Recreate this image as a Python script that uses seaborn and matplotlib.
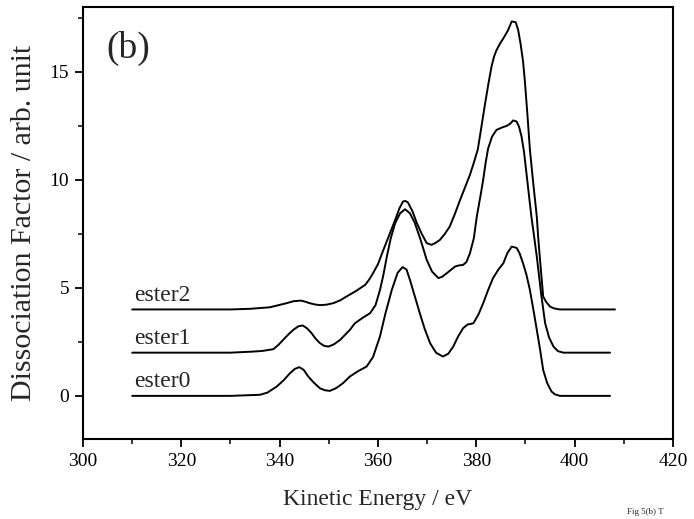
import matplotlib
matplotlib.use("Agg")
import matplotlib.pyplot as plt
import seaborn as sns
import pandas as pd
from matplotlib.ticker import MultipleLocator

# ---- data ----
series_names = ["ester0", "ester1", "ester2"]

e0_x = [310, 330, 336, 337.5, 339.4, 340.8, 342.1, 343.1, 344.0, 344.9, 345.8, 347.0,
        348.2, 349.2, 350.2, 351.5, 352.9, 354.3, 356.0, 357.7, 359.0, 360.4, 361.5,
        362.8, 364.0, 365.0, 365.8, 366.5, 367.5, 368.5, 369.5, 370.6, 371.8, 373.2,
        374.3, 375.3, 376.3, 377.3, 378.2, 379.4, 380.4, 381.4, 382.4, 383.4, 384.5,
        385.5, 386.3, 387.2, 388.2, 388.8, 389.5, 390.2, 390.9, 391.6, 392.3, 393.0,
        393.6, 394.4, 395.3, 396.0, 397.0, 407.2]
e0_y = [0, 0, 0.05, 0.15, 0.43, 0.72, 1.05, 1.25, 1.33, 1.2, 0.9, 0.6,
        0.35, 0.26, 0.23, 0.36, 0.59, 0.9, 1.15, 1.36, 1.8, 2.75, 3.8,
        4.9, 5.7, 5.96, 5.85, 5.37, 4.6, 3.83, 3.1, 2.44, 2.0, 1.82,
        1.95, 2.28, 2.75, 3.13, 3.3, 3.36, 3.75, 4.29, 4.9, 5.45, 5.85,
        6.14, 6.6, 6.91, 6.85, 6.6, 6.14, 5.6, 4.9, 4.0, 3.06, 2.1,
        1.2, 0.6, 0.2, 0.07, 0, 0]

e1_x = [310, 330, 334.6, 336.5, 338.7, 339.7, 340.7, 341.8, 342.8, 343.8, 344.7, 345.6,
        346.5, 347.3, 348.2, 349.0, 349.9, 351.0, 352.3, 354.3, 355.3, 356.8, 358.4,
        359.5, 360.4, 361.1, 361.8, 362.6, 363.5, 364.5, 365.5, 366.5, 367.5, 368.7,
        369.9, 371.0, 372.3, 373.1, 374.0, 375.7, 376.5, 377.3, 378.0, 378.7, 379.5,
        380.1, 380.8, 381.4, 381.9, 382.4, 383.2, 384.1, 385.2, 386.2, 386.9, 387.5,
        388.2, 388.7, 389.2, 389.7, 390.2, 390.7, 391.2, 391.8, 392.3, 393.2, 394.0,
        394.8, 395.7, 396.6, 397.7, 407.2]
e1_y = [2, 2, 2.05, 2.08, 2.16, 2.35, 2.59, 2.85, 3.06, 3.22, 3.26, 3.12,
        2.9, 2.65, 2.44, 2.32, 2.28, 2.38, 2.59, 3.06, 3.36, 3.6, 3.83,
        4.2, 4.9, 5.6, 6.45, 7.3, 8.0, 8.45, 8.64, 8.45, 8.0, 7.2,
        6.3, 5.75, 5.45, 5.52, 5.68, 5.99, 6.04, 6.06, 6.2, 6.6, 7.3,
        8.3, 9.2, 10.0, 10.8, 11.45, 12.0, 12.31, 12.42, 12.5, 12.6, 12.75,
        12.7, 12.45, 12.0, 11.3, 10.3, 9.3, 8.3, 7.3, 6.45, 4.7, 3.36,
        2.7, 2.28, 2.07, 2.0, 2.0]

e2_x = [310, 330, 334, 338, 341.4, 342.8, 344.3, 345.2, 346.1, 347.2, 348.2, 349.5,
        350.9, 352.3, 353.6, 355.5, 357.4, 358.2, 359.0, 360.0, 361.1, 362.3, 363.5,
        364.4, 365.1, 365.6, 366.1, 367.0, 367.9, 368.9, 369.9, 370.9, 371.7, 372.6,
        373.6, 374.6, 375.6, 376.7, 377.7, 378.7, 379.5, 380.3, 381.0, 381.8, 382.5,
        383.1, 383.6, 384.1, 384.8, 385.5, 386.4, 387.2, 388.0, 388.5, 389.0, 389.5,
        389.9, 390.4, 390.9, 391.6, 392.3, 392.6, 392.9, 393.6, 394.2, 395.0, 395.8,
        397.0, 408.2]
e2_y = [4, 4, 4.03, 4.1, 4.29, 4.38, 4.41, 4.36, 4.29, 4.23, 4.2, 4.22,
        4.29, 4.42, 4.6, 4.85, 5.14, 5.38, 5.68, 6.1, 6.76, 7.45, 8.15,
        8.7, 9.0, 9.02, 8.95, 8.55, 8.0, 7.5, 7.07, 6.99, 7.08, 7.22,
        7.5, 7.84, 8.4, 9.07, 9.65, 10.23, 10.8, 11.4, 12.4, 13.55, 14.5,
        15.25, 15.7, 16.0, 16.3, 16.55, 16.9, 17.33, 17.3, 16.95, 16.3, 15.5,
        14.5, 13.0, 11.4, 9.8, 8.3, 7.3, 6.45, 4.6, 4.35, 4.13, 4.05,
        4.0, 4.0]

baselines = [0, 2, 4]
x_ticks = [300, 320, 340, 360, 380, 400, 420]
y_ticks = [0, 5, 10, 15]

frames = []
for name, xs, ys in zip(series_names, [e0_x, e1_x, e2_x], [e0_y, e1_y, e2_y]):
    frames.append(pd.DataFrame({"energy": xs, "value": ys, "series": name}))
df = pd.concat(frames, ignore_index=True)

# ---- plotting ----
sns.set_style("ticks")
plt.rcParams["font.family"] = ["Liberation Serif", "DejaVu Serif"]

fig = plt.figure(figsize=(6.94, 5.19), dpi=100)
ax = fig.add_axes([0.1196, 0.154, 0.8501, 0.8325])

sns.lineplot(data=df, x="energy", y="value", hue="series",
             palette={n: "black" for n in series_names},
             estimator=None, sort=False, legend=False, linewidth=1.4, ax=ax)

for name, b in zip(series_names, baselines):
    ax.text(310.3, b + 0.18, name, fontsize=17, ha="left", va="bottom")

ax.text(0.04, 0.905, "(b)", transform=ax.transAxes, fontsize=27,
        ha="left", va="center")

ax.set_xlim(300, 420)
ax.set_ylim(-2, 18)
ax.set_xticks(x_ticks)
ax.set_yticks(y_ticks)
ax.xaxis.set_minor_locator(MultipleLocator(10))
ax.yaxis.set_minor_locator(MultipleLocator(2.5))
ax.tick_params(axis="both", which="major", direction="out", length=6,
               width=1.3, labelsize=14, colors="black", pad=4)
ax.tick_params(axis="both", which="minor", direction="out", length=3.5,
               width=1.3)
for s in ax.spines.values():
    s.set_visible(True)
    s.set_linewidth(1.5)
    s.set_color("black")

ax.set_xlabel("Kinetic Energy / eV", fontsize=17, labelpad=14)
ax.set_ylabel("Dissociation Factor / arb. unit", fontsize=21.5, labelpad=9)

fig.text(0.903, 0.005, "Fig 5(b) T", fontsize=6.5, ha="left", va="bottom")

fig.savefig("out.png", dpi=100)
